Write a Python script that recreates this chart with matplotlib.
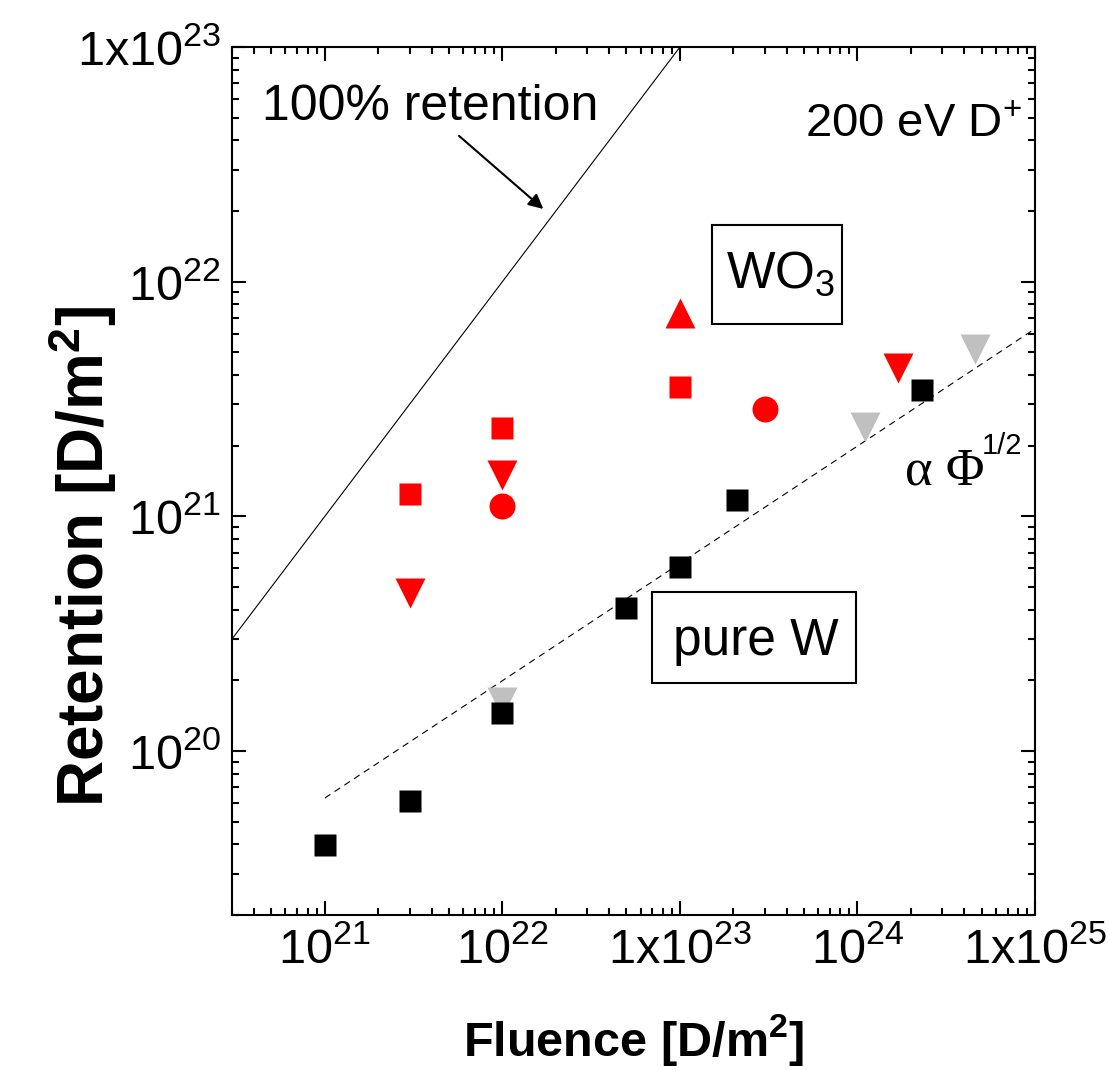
import numpy as np
import matplotlib
matplotlib.use('Agg')
import matplotlib.pyplot as plt
from matplotlib import font_manager
from matplotlib.patches import Rectangle
from matplotlib.ticker import LogLocator, NullFormatter

installed = {f.name for f in font_manager.fontManager.ttflist}
has_narrow = 'Liberation Sans Narrow' in installed
tick_font = 'Liberation Sans Narrow' if has_narrow else 'Liberation Sans'

plt.rcParams['font.family'] = ['Liberation Sans', 'DejaVu Sans']
plt.rcParams['mathtext.fontset'] = 'custom'
plt.rcParams['mathtext.rm'] = tick_font
plt.rcParams['mathtext.it'] = tick_font + ':italic'
plt.rcParams['mathtext.bf'] = tick_font + ':bold'

# pure W (black squares)
w_fluence = [1e21, 3e21, 1e22, 5e22, 1e23, 2.1e23, 2.3e24]
w_retention = [3.97e19, 6.1e19, 1.45e20, 4.07e20, 6.08e20, 1.17e21, 3.44e21]

# grey down triangles
g_fluence = [1e22, 1.1e24, 4.6e24]
g_retention = [1.62e20, 2.4e21, 5.17e21]

# WO3 (red)
wo_sq_fluence = [3e21, 1e22, 1e23]
wo_sq_retention = [1.25e21, 2.37e21, 3.55e21]
wo_dn_fluence = [3e21, 1e22, 1.7e24]
wo_dn_retention = [4.7e20, 1.5e21, 4.3e21]
wo_ci_fluence = [1e22, 3e23]
wo_ci_retention = [1.11e21, 2.86e21]
wo_up_fluence = [1e23]
wo_up_retention = [7.36e21]

# reference lines (end points)
full_x = [3e20, 1e23]
full_y = [3e20, 1e23]
sqrt_x = [1e21, 1e25]
sqrt_y = [6.3e19, 6.3e21]

xticks = [1e21, 1e22, 1e23, 1e24, 1e25]
xlabels = [r'$\mathregular{10^{21}}$', r'$\mathregular{10^{22}}$', r'$\mathregular{1x10^{23}}$',
           r'$\mathregular{10^{24}}$', r'$\mathregular{1x10^{25}}$']
yticks = [1e20, 1e21, 1e22, 1e23]
ylabels = [r'$\mathregular{10^{20}}$', r'$\mathregular{10^{21}}$', r'$\mathregular{10^{22}}$',
           r'$\mathregular{1x10^{23}}$']

fig = plt.figure(figsize=(11.09, 10.71), dpi=100)
ax = fig.add_axes([0.2092, 0.1457, 0.7241, 0.8104])

ax.plot(full_x, full_y, color='black', lw=0.8)
ax.plot(sqrt_x, sqrt_y, color='black', lw=0.8, ls=(0, (6, 4.5)))

ms_sq, ms_tri, ms_ci = 16.5, 21.5, 18.7
ax.plot(g_fluence, g_retention, 'v', color='#c0c0c0', ms=ms_tri, mec='none', ls='none')
ax.plot(w_fluence, w_retention, 's', color='black', ms=ms_sq, mec='none', ls='none')
ax.plot(wo_sq_fluence, wo_sq_retention, 's', color='red', ms=ms_sq, mec='none', ls='none')
ax.plot(wo_ci_fluence, wo_ci_retention, 'o', color='red', ms=ms_ci, mec='none', ls='none')
ax.plot(wo_dn_fluence, wo_dn_retention, 'v', color='red', ms=ms_tri, mec='none', ls='none')
ax.plot(wo_up_fluence, wo_up_retention, '^', color='red', ms=ms_tri, mec='none', ls='none')

ax.set_xscale('log')
ax.set_yscale('log')
ax.set_xlim(3e20, 1e25)
ax.set_ylim(2e19, 1e23)

tick_size = 39 if has_narrow else 35
ax.set_xticks(xticks, xlabels)
ax.set_yticks(yticks, ylabels)
ax.xaxis.set_minor_locator(LogLocator(base=10, subs=range(2, 10)))
ax.yaxis.set_minor_locator(LogLocator(base=10, subs=range(2, 10)))
ax.xaxis.set_minor_formatter(NullFormatter())
ax.yaxis.set_minor_formatter(NullFormatter())
ax.tick_params(which='both', direction='in', top=True, right=True, width=1.5)
ax.tick_params(which='major', length=10, labelsize=tick_size)
ax.tick_params(axis='x', which='major', pad=9)
ax.tick_params(axis='y', which='major', pad=8)
ax.tick_params(which='minor', length=5)
for s in ax.spines.values():
    s.set_linewidth(1.5)

fig.text(634 / 1109, 1 - 1040 / 1071, r'Fluence [D/m$^{\mathbf{2}}$]',
         fontsize=40 if has_narrow else 35, fontweight='bold', ha='center', va='center',
         family=[tick_font, 'DejaVu Sans'])
fig.text(83 / 1109, 1 - 556 / 1071, r'Retention [D/m$^{\mathbf{2}}$]',
         fontsize=46, fontweight='bold', ha='center', va='center', rotation=90)

ax.text(0.037, 0.9159, '100% retention', transform=ax.transAxes, fontsize=36,
        ha='left', va='baseline')
ax.annotate('', xy=(1.7e22, 2.04e22), xytext=(5.7e21, 4.18e22),
            arrowprops=dict(arrowstyle='-|>', color='black', lw=1.5,
                            mutation_scale=22, shrinkA=0, shrinkB=0))
ax.text(0.984, 0.896, r'200 eV D$^{+}$', transform=ax.transAxes, fontsize=34,
        ha='right', va='baseline')

ax.add_patch(Rectangle((0.5978, 0.6809), 0.1619, 0.1141, transform=ax.transAxes,
                       fill=False, lw=1.5, ec='black'))
ax.text(0.615, 0.7224, r'WO$_{3}$', transform=ax.transAxes, fontsize=37,
        ha='left', va='baseline')

ax.add_patch(Rectangle((0.523, 0.2673), 0.254, 0.1048, transform=ax.transAxes,
                       fill=False, lw=1.5, ec='black'))
ax.text(0.549, 0.2995, 'pure W', transform=ax.transAxes, fontsize=37,
        ha='left', va='baseline')

ax.text((905 - 232) / 803, (915 - 485) / 868, u'\u03b1 \u03a6', transform=ax.transAxes,
        fontsize=38, family=['Liberation Serif', 'DejaVu Serif'], ha='left', va='baseline')
ax.text((982 - 232) / 803, (915 - 454) / 868, '1/2', transform=ax.transAxes,
        fontsize=21, ha='left', va='baseline')

fig.savefig('out.png', dpi=100)
